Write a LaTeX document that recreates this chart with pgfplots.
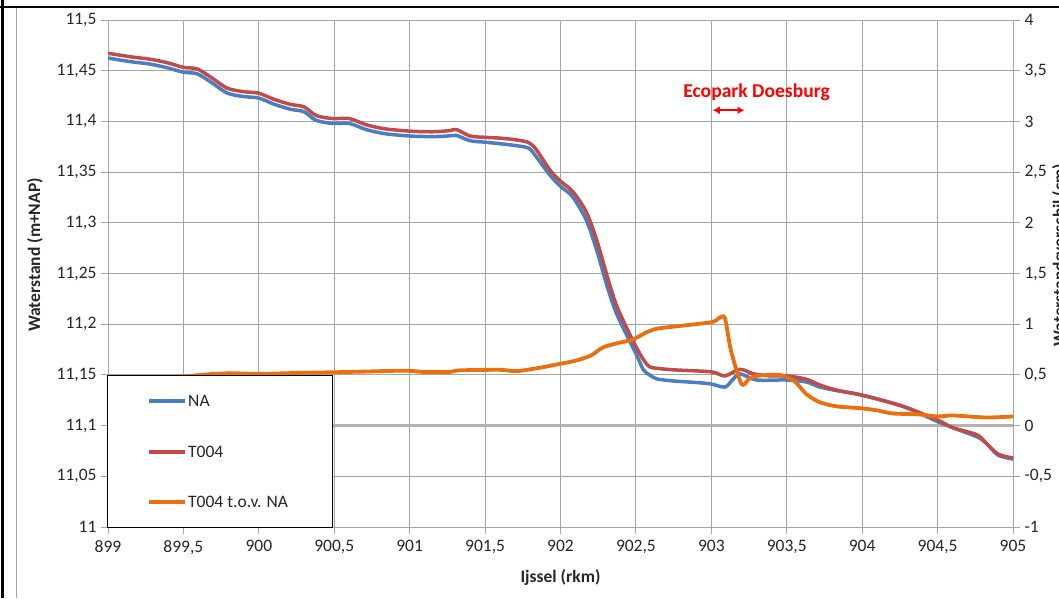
\documentclass[border=0pt]{standalone}
\usepackage{pgfplots}
\pgfplotsset{compat=1.18}
\usepackage{fontspec}
\setmainfont{Carlito}
\usetikzlibrary{arrows.meta}
\definecolor{gridgray}{RGB}{165,165,165}
\definecolor{nablue}{RGB}{74,126,193}
\definecolor{tred}{RGB}{192,76,74}
\definecolor{torange}{RGB}{234,112,14}
\definecolor{zerogray}{RGB}{178,178,178}
\newcommand{\tfont}{\fontsize{17.5}{21}\selectfont}
\pgfplotsset{
  base/.style={
    at={(108pt,71pt)}, anchor=south west,
    scale only axis, width=905pt, height=507pt,
    xmin=899, xmax=905,
    tick align=outside, major tick length=7pt,
    axis line style={gridgray, line width=1pt},
    tick style={gridgray, line width=1pt},
    tick label style={font=\tfont, text=black!85},
    /pgf/number format/assume math mode=true,
  }
}
\begin{document}
\begin{tikzpicture}[x=1pt,y=1pt]
\useasboundingbox (0,0) rectangle (1059,598);
% frame of the screenshot
\draw[black, line width=3pt] (2,0) -- (2,598);
\draw[black, line width=2pt] (0,591) -- (1059,591);
\draw[gridgray, line width=1pt] (16.5,0) -- (16.5,590);

% right axis with grid and zero line
\begin{axis}[base,
  ymin=-1, ymax=4,
  axis x line*=bottom, axis y line*=right,
  xtick={899,899.5,900,900.5,901,901.5,902,902.5,903,903.5,904,904.5,905},
  xticklabels={},
  ytick={-1,-0.5,0,0.5,1,1.5,2,2.5,3,3.5,4},
  yticklabels={-1,{-0,5},0,{0,5},1,{1,5},2,{2,5},3,{3,5},4},
  yticklabel style={anchor=west, xshift=1pt},
  grid=major, major grid style={gridgray, line width=1pt},
]
\addplot[zerogray, line width=3pt] coordinates {(899,0)(905,0)};
\end{axis}

% left axis: water levels
\begin{axis}[base,
  ymin=11, ymax=11.5,
  axis x line*=bottom, axis y line*=left,
  xtick={899,899.5,900,900.5,901,901.5,902,902.5,903,903.5,904,904.5,905},
  xticklabels={899,{899,5},900,{900,5},901,{901,5},902,{902,5},903,{903,5},904,{904,5},905},
  xticklabel style={yshift=-3pt},
  ytick={11,11.05,11.1,11.15,11.2,11.25,11.3,11.35,11.4,11.45,11.5},
  yticklabels={11,{11,05},{11,1},{11,15},{11,2},{11,25},{11,3},{11,35},{11,4},{11,45},{11,5}},
  yticklabel style={anchor=east, xshift=-1pt},
]
\addplot[nablue, line width=3.5pt, smooth, tension=0.5] coordinates {
(899,11.4625)(899.08,11.4605)(899.17,11.4585)(899.28,11.4565)(899.39,11.453)(899.5,11.4485)(899.59,11.447)(899.68,11.439)(899.79,11.428)(899.9,11.4245)(900,11.423)(900.1,11.417)(900.21,11.412)(900.3,11.4095)(900.38,11.401)(900.49,11.398)(900.6,11.398)(900.71,11.392)(900.83,11.388)(901,11.3856)(901.16,11.385)(901.27,11.3858)(901.31,11.3862)(901.4,11.381)(901.5,11.3795)(901.6,11.378)(901.71,11.376)(901.79,11.3735)(901.84,11.365)(901.93,11.347)(902,11.336)(902.08,11.3257)(902.17,11.303)(902.24,11.273)(902.31,11.237)(902.37,11.211)(902.44,11.189)(902.5,11.171)(902.55,11.155)(902.59,11.150)(902.64,11.146)(902.75,11.144)(902.9,11.1425)(903,11.141)(903.09,11.138)(903.14,11.145)(903.19,11.151)(903.3,11.145)(903.5,11.145)(903.63,11.143)(903.72,11.138)(903.85,11.134)(904,11.130)(904.27,11.119)(904.5,11.104)(904.6,11.098)(904.76,11.089)(904.82,11.083)(904.9,11.071)(905,11.067)
};
\addplot[tred, line width=3.5pt, smooth, tension=0.5] coordinates {
(899,11.4672)(899.08,11.4653)(899.17,11.4633)(899.28,11.4613)(899.39,11.458)(899.5,11.4533)(899.59,11.4518)(899.68,11.4438)(899.79,11.4328)(899.9,11.4293)(900,11.4278)(900.1,11.4218)(900.21,11.4168)(900.3,11.4143)(900.38,11.4058)(900.49,11.4028)(900.6,11.4028)(900.71,11.3968)(900.83,11.3928)(901,11.3904)(901.16,11.3898)(901.27,11.391)(901.31,11.392)(901.4,11.3856)(901.5,11.3843)(901.6,11.3835)(901.71,11.3817)(901.79,11.379)(901.84,11.372)(901.93,11.352)(902,11.341)(902.08,11.331)(902.17,11.311)(902.24,11.283)(902.31,11.247)(902.37,11.219)(902.44,11.196)(902.5,11.178)(902.55,11.165)(902.59,11.158)(902.64,11.1565)(902.75,11.155)(903,11.153)(903.09,11.149)(903.19,11.1555)(903.28,11.151)(903.39,11.149)(903.5,11.149)(903.63,11.1457)(903.72,11.140)(903.83,11.135)(904,11.130)(904.27,11.119)(904.5,11.1055)(904.6,11.098)(904.76,11.091)(904.82,11.083)(904.9,11.072)(905,11.068)
};
\node[text=red, font=\bfseries\fontsize{19.6}{23}\selectfont] at (axis cs:903.30,11.429) {Ecopark Doesburg};
\draw[red, line width=2.5pt, {Latex[length=7pt,width=8pt]}-{Latex[length=7pt,width=8pt]}] (axis cs:903.01,11.411) -- (axis cs:903.22,11.411);
\end{axis}

% right axis again: difference on top
\begin{axis}[base,
  ymin=-1, ymax=4,
  hide axis,
]
\addplot[torange, line width=3.8pt, smooth, tension=0.45] coordinates {
(899,0.47)(899.25,0.475)(899.5,0.486)(899.7,0.51)(899.83,0.516)(900,0.51)(900.27,0.52)(900.49,0.526)(900.71,0.533)(900.89,0.54)(901,0.54)(901.11,0.528)(901.27,0.53)(901.33,0.545)(901.6,0.55)(901.71,0.537)(901.88,0.575)(902,0.61)(902.1,0.64)(902.2,0.69)(902.28,0.77)(902.37,0.81)(902.48,0.85)(902.57,0.92)(902.64,0.956)(902.75,0.976)(903,1.02)(903.05,1.06)(903.09,1.06)(903.13,0.74)(903.2,0.41)(903.25,0.46)(903.3,0.49)(903.45,0.50)(903.55,0.44)(903.63,0.31)(903.72,0.23)(903.83,0.19)(904,0.17)(904.1,0.15)(904.2,0.12)(904.38,0.11)(904.5,0.09)(904.6,0.10)(904.82,0.08)(905,0.09)
};
\end{axis}

% axis titles
\node[rotate=90, font=\bfseries\tfont, text=black!85] at (35,343) {Waterstand (m+NAP)};
\node[rotate=90, anchor=north, inner sep=0pt, font=\bfseries\tfont, text=black!85] at (1052,343) {Waterstandsverschil (cm)};
\node[font=\bfseries\tfont, text=black!85] at (560.5,21) {Ijssel (rkm)};

% legend
\filldraw[fill=white, draw=black, line width=1pt] (107.5,71) rectangle (332,222.5);
\draw[nablue, line width=3.5pt] (149,197) -- (185,197);
\draw[tred, line width=3.5pt] (149,146) -- (185,146);
\draw[torange, line width=3.8pt] (149,96) -- (185,96);
\begin{scope}[every node/.style={anchor=west, inner sep=0pt, font=\tfont, text=black!85}]
\node at (188,197) {NA};
\node at (188,146) {T004};
\node at (188,96) {T004 t.o.v. NA};
\end{scope}
\end{tikzpicture}
\end{document}
